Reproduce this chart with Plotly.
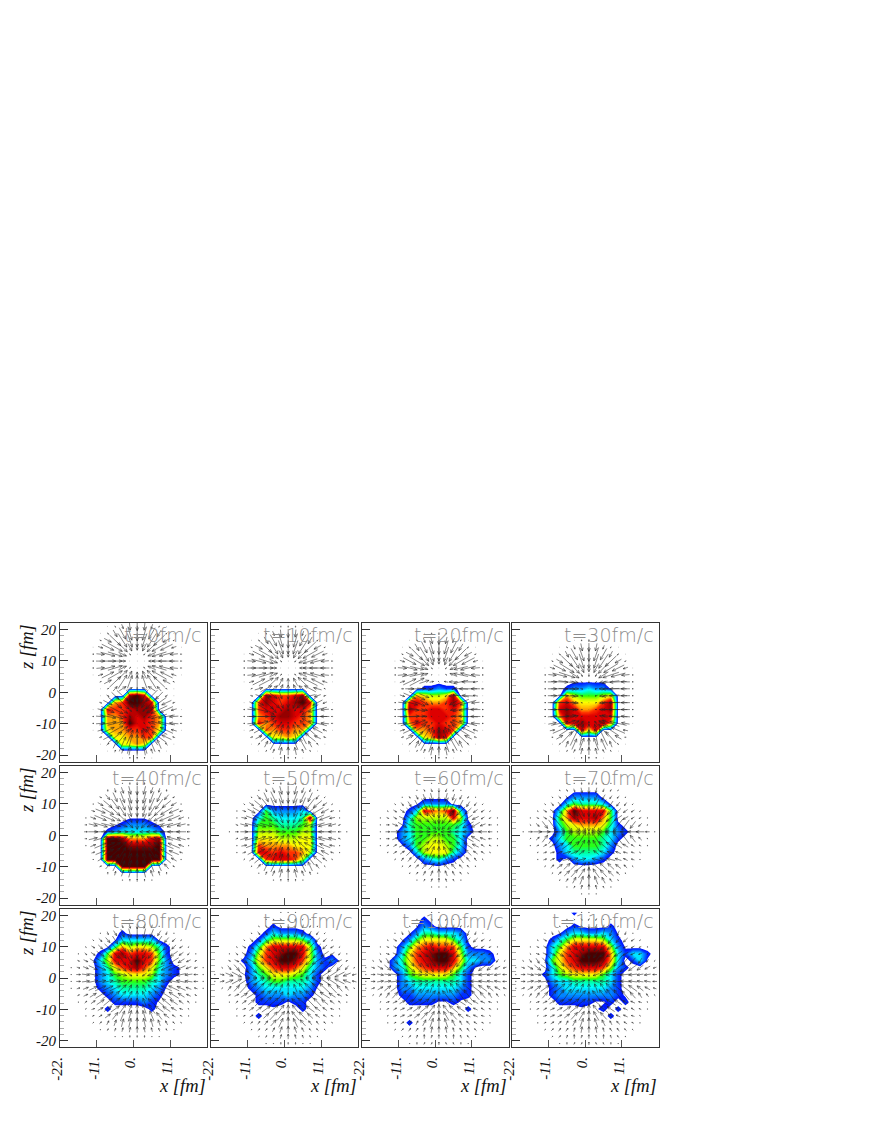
import numpy as np
import plotly.graph_objects as go

TIMES = [0, 10, 20, 30, 40, 50, 60, 70, 80, 90, 100, 110]
X_TICK_VALUES = [-22, -11, 0, 11]
X_TICK_LABELS = ["-22.", "-11.", "0.", "11."]
Z_TICK_VALUES = [20, 10, 0, -10, -20]
Z_TICK_LABELS = ["20", "10", "0", "-10", "-20"]
BIN_CENTRES = [-20.9, -18.7, -16.5, -14.3, -12.1, -9.9, -7.7, -5.5, -3.3, -1.1,
               1.1, 3.3, 5.5, 7.7, 9.9, 12.1, 14.3, 16.5, 18.7, 20.9]

# density, one string per row from z=+20.9 down to z=-20.9,
# one character per x bin: . = empty, ',' = trace, then 1..9, a, b, c
D0 = ["","","","","","","","","","",".........bca",".......89ccba","......a99abbb","......889bab98","......888caa98","......78899a97",".......778899","........7787","",""]
D10 = ["","","","","","","","","","",".......ba99ab","......9ba9abca","......9aaabaa8","......89abba98","......a89aa998",".......989988","........7787","","",""]
D20 = ["","","","","","","","","","........11211",".......87667b","......aa9889b9","......b99aa9a8","......999aaa98","......8a99a998",".......889ba9","........78ba","","",""]
D30 = ["","","","","","","","","........,,,,,",".......122322,",".......8655567","......9a87779b","......aba889ab","......8baaaaaa",".......aabaab8",".........a7a","","","",""]
D40 = ["","","","","","","",".........,,,",".......,12221,","......12333332","......ccb888ab","......cccbbbbc","......cccccccc","......cccccccc","........cccc","","","","",""]
D50 = ["","","","","","",".......522223","......3543334b","......55544456","......66655566","......77766677","......98888777","......aa9a9986",".......9aaa96","","","","","",""]
D60 = ["","","","","",".......,2222","......13a989c3","......366666a6,",".....,455555541",".....2355555432",".....235566553",".....,25677653",".......3677742","........23421","..........,","","","","",""]
D70 = ["","","","",".......,2222",".......354443,","......38caaaa5","......58baab85","......467888741","......2566665321",".....1355555431","......23555542","......13444431","......1.23321","","","","","",""]
D80 = ["","","","........1",".......,33333,","......,48677641",".....15ab9aa951","....,36aaaca952",".....2479ab97421,",".....23567776321,",".....2345555431",".....123444432,","......12333321",".......111121,","......1.....1","","","","",""]
D90 = ["","","........1",".......132221","......14666653",".....148aaaaa61",".....269abcca62.,","....1379accb96212,",".....2579aa97421","....,2457776531",".....2345544431",".....123333332,","......12223221","......1111,11","........,...1","......1","","","",""]
D100 = ["",  "........1",".......,21","......,2443332",".....,25777753,",".....2589a99951",".....379abcca62221","....2479abcca73322","....23689aaa852,",".....2567777531",".....2344444431",".....2233333321",".....1122222211","......1111,,1,","..............1","","......1","","",""]
D110 = ["........1","","........1,...1","......,2332232,",".....1357777631",".....358aaaaa62,",".....379abccc831331","....,579acccb83.13,",".....3689aaa9621","....13567777531",".....2334444431",".....1233333321",".....1222222221,","......11111,,1.1",".........,.,1.1",".............1","......,","","",""]

# second field read from the arrows: arrows follow its gradient (base-36 characters)
A0 = ["........12221.......","......126aba621.....","......29gkmkg92.....",".....16gostsog61....",".....2aksuuuska2....",".....2bmtuuutmb2....",".....2aksuuuska2....",".....16gostsog61....","......29gkmkg92.....","......126bcb621.....","......13ahjha31.....","......3bkrsrlc3.....",".....17hruvurh71....",".....2bmuwwwumb2....",".....2bnuwwwunb2....",".....17hruvurh71....","......3bkrsrlc3.....","......136bcb631.....","........12321.......",""]
A10 = ["","........12221.......","......126aba621.....","......29gkmkg92.....",".....16gostsog61....",".....2aksuuuska2....",".....2bmtuuutmb2....",".....2aksuuuska2....",".....16gostsog61....","......2agklkga2.....","......38ghjhg83.....",".....15dnstsnd51....",".....2apuwwwupa2....",".....2bqvwwwvqb2....",".....2apuwwwupa2....",".....15dnstsnd51....","......38ghjhg83.....","......125aba521.....","........12321.......",""]
A20 = ["","","........12321.......","......1269b9621.....","......29gkmkg92.....",".....16hpstsph61....",".....2blsuuuslb2....",".....2bltuuutlb2....",".....16hottsoh61....","......3bpttttpb3....",".....16gqstsqg61....",".....2amuwwwuma2....",".....2cpwxxxwpc2....",".....2cqwxxxwqc2....",".....2bowwxwwob2....",".....16hsuvush61....","......39inpni93.....","......125bcb521.....","........12321.......",""]
A30 = ["","","","........12321.......","......125aba521.....","......28gkmkg82.....",".....16gotutog61....",".....2akuwwwuka2....",".....2bnwxyxwnb2....",".....2bnwyzywnb2....",".....2bowyzywob2....",".....2bpxzzzxpb2....",".....2bpxzzzxpb2....",".....2bpxzzzxpb2....",".....1amvyzyvma1....","......6hqtutqh6.....","......28fijif82.....","......1248a8421.....","........12321.......",""]
A40 = ["","","","........12321.......","......246898642.....",".....159cefec951....",".....39eiklkie93....","....15cimpqpmic51...","....28fkptvtpkf82...","....39flqvzvqlf93...","....28fkptvtpkf82...","....15cimpqpmic51...",".....39eiklkie93....",".....159cefec951....","......246898642.....","........12321.......","","","",""]
A50 = ["","","","........12321.......","......135898531.....",".....149cefec941....","....138eijljie831...","....15bhmpqpmhb51...","....27ekptvtpke72...","...138fkqvzvqkf831..","....27ekptvtpke72...","....15bhmpqpmhb51...","....138eijljie831...",".....149cefec941....","......135898531.....","........12321.......","","","",""]
A60 = ["","","",".........111........",".......1234321......",".....12469a96421....","....1359dgigd9531...","...1248cglolgc8421..","...136bglrtrlgb631..","...149ejpuzupje941..","...136bglrtrlgb631..","...1248cglolgc8421..","....1359dgigd9531...",".....12479c97421....","......124696421.....",".......1234321......",".........111........","","",""]
A70 = ["","","",".......1122211......","......123565321.....",".....12469b96421....","....1358cfhfc8531...","...1247bgkmkgb7421..","...136afkqsqkfa631..","..149ejosxzxsoje941.","...136afkqsqkfa631..","...1247bgkmkgb7421..","....1358cfhfc8531...","....1359dglgd9531...",".....1369dhd9631....","......1369c9631.....",".......1245421......",".........111........","",""]
A80 = ["","",".........111........",".......1345431......",".....1358aca8531....","....1359cfhfc9531...","...1259dhklkhd9521..","...248dilopolid842..","..136bglqstsqlgb631.","..148dinsvwvsnid841.","..148dinsvwvsnid841.","..136bglqstsqlgb631.","...248dilopolid842..","...1259diklkid9521..","....136aeghgea631...","....12479bcb97421...",".....12345654321....",".......1122211......","",""]
A90 = ["",".........111........",".......1122211......","......123454321.....",".....1358aca8531....","....1359cfhfc9531...","...1259dhklkhd9521..","...248dilopolid842..","..136bglqstsqlgb631.",".148dinsvwzwvsnid841",".148dinsvwzwvsnid841","..136bglqstsqlgb631.","...248dilopolid842..","...1258chlolhc8521..","....1358dhjhd8531...","....12469dgd96421...",".....12358985321....","......123454321.....",".......1122211......",""]
A100 = ["",".........11.........",".......1122211......","......123454321.....","....1357abcba7531...","...12469dfhfd96421..","...1358cgjljgc8531..","..1247bfjnqnjfb7421.",".1369ejosuvusoje9631",".147afkptwzwtpkfa741",".147afkptwzwtpkfa741",".1369ejosuvusoje9631","..1247bfjnqnjfb7421.","...1358chlolhc8531..","...12469dhjhd96421..","....1357adfda7531...","....1245689865421...",".....12344544321....","......122232221.....",".........111........"]
A110 = ["",".........11.........",".......1122211......","......123454321.....","....1357abcba7531...","...12469dfhfd96421..","...1358cgjljgc8531..","..1247bfjnqnjfb7421.",".1369ejosuvusoje9631",".147afkptwzwtpkfa741",".147afkptwzwtpkfa741",".1369ejosuvusoje9631","..1247bfjnqnjfb7421.","...1358chlolhc8531..","...12469dhjhd96421..","....1357adfda7531...","....1245689865421...",".....12344544321....","......122232221.....",".........111........"]

DENSITY = [D0, D10, D20, D30, D40, D50, D60, D70, D80, D90, D100, D110]
ARROWS = [A0, A10, A20, A30, A40, A50, A60, A70, A80, A90, A100, A110]
ARROW_GAIN = [.24, .24, .24, .24, .32, .32, .32, .32, .32, .32, .32, .32]

COL_EDGES = [(60, 207), (211, 358), (362, 508.5), (512, 658.5)]
ROW_EDGES = [(623, 761.5), (766, 904.5), (909, 1047)]
W, H = 872, 1128
TRACE = 0.4
COLOURS = [(TRACE, "#0000ff"), (2, "#00a0ff"), (3, "#00ffff"), (4, "#00ff90"), (5, "#30ff00"),
           (6, "#c0ff00"), (7, "#ffff00"), (8, "#ffa000"), (9, "#ff3000"), (10, "#e00000"),
           (11, "#9c0000"), (12, "#4a0000")]
START = 0.3
colorscale = [[0, "#ffffff"], [START / 12 - 0.001, "#ffffff"], [START / 12, "#0010ff"]]
colorscale += [[v / 12, c] for v, c in COLOURS[1:]]


def density_grid(rows):
    vals = {".": 0.0, ",": TRACE}
    out = []
    for row in rows:
        row = row.ljust(20, ".")[:20]
        out.append([vals[c] if c in vals else float(int(c, 36)) for c in row])
    return np.array(out)


def arrow_grid(rows):
    out = []
    for row in rows:
        row = row.ljust(20, ".")[:20]
        out.append([0.0 if c == "." else float(int(c, 36)) for c in row])
    return np.array(out)


def quiver(field, gain):
    xs, ys = [], []
    z_centres = BIN_CENTRES[::-1]
    for r in range(20):
        for i in range(20):
            left = field[r, i - 1] if i > 0 else 0
            right = field[r, i + 1] if i < 19 else 0
            up = field[r - 1, i] if r > 0 else 0
            down = field[r + 1, i] if r < 19 else 0
            u, v = (right - left) * gain, (up - down) * gain
            n = float(np.hypot(u, v))
            if n == 0 and field[r, i] == 0:
                continue
            cx, cz = BIN_CENTRES[i], z_centres[r]
            if n < 0.3:
                xs += [cx - 0.06, cx + 0.06, None]
                ys += [cz, cz, None]
                continue
            ux, uz = u / n, v / n
            tx, tz = cx + u / 2, cz + v / 2
            bx, bz = cx - u / 2, cz - v / 2
            xs += [bx, tx, None]
            ys += [bz, tz, None]
            head = min(1.1, 0.45 * n)
            for sign in (1, -1):
                ca, sa = np.cos(np.radians(24)), sign * np.sin(np.radians(24))
                hx = -(ux * ca - uz * sa) * head
                hz = -(ux * sa + uz * ca) * head
                xs += [tx, tx + hx, None]
                ys += [tz, tz + hz, None]
    return xs, ys


fig = go.Figure()
layout = {}
annotations = []
LABEL_FONT = dict(family="Liberation Serif", size=15, color="#111111", style="italic")
TITLE_FONT = dict(family="Liberation Serif", size=18.5, color="#111111", style="italic")

for n in range(12):
    row, col = n // 4, n % 4
    ax = "" if n == 0 else str(n + 1)
    L, R = COL_EDGES[col]
    T, B = ROW_EDGES[row]
    fig.add_trace(go.Contour(
        x=BIN_CENTRES, y=BIN_CENTRES, z=density_grid(DENSITY[n])[::-1].tolist(),
        xaxis="x" + ax, yaxis="y" + ax, zmin=0, zmax=12, colorscale=colorscale,
        autocontour=False, contours=dict(start=START, end=12.3, size=0.25, coloring="fill", showlines=False),
        line=dict(width=0, smoothing=0), showscale=False, hoverinfo="skip"))
    xs, ys = quiver(arrow_grid(ARROWS[n]), ARROW_GAIN[n])
    fig.add_trace(go.Scatter(x=xs, y=ys, xaxis="x" + ax, yaxis="y" + ax, mode="lines",
                             line=dict(color="#222222", width=0.55), showlegend=False, hoverinfo="skip"))
    layout["xaxis" + ax] = dict(
        domain=[L / W, R / W], range=[-22, 22], anchor="y" + ax, showgrid=False, zeroline=False,
        automargin=False, showline=True, mirror=True, linecolor="#333333", linewidth=1,
        ticks="inside", ticklen=7, tickwidth=1, tickcolor="#555555",
        tickvals=X_TICK_VALUES, ticktext=X_TICK_LABELS, tickangle=-90,
        showticklabels=row == 2, tickfont=LABEL_FONT, ticklabelshift=-3, ticklabelstandoff=3)
    layout["yaxis" + ax] = dict(
        domain=[1 - B / H, 1 - T / H], range=[-22, 22], anchor="x" + ax, showgrid=False, zeroline=False,
        automargin=False, showline=True, mirror=True, linecolor="#333333", linewidth=1,
        ticks="inside", ticklen=8, tickwidth=1, tickcolor="#333333",
        tickvals=Z_TICK_VALUES, ticktext=Z_TICK_LABELS,
        minor=dict(ticks="inside", dtick=2, ticklen=4, tickcolor="#aaaaaa", tickwidth=1),
        showticklabels=col == 0, tickfont=LABEL_FONT)
    annotations.append(dict(
        text=f"t={TIMES[n]}fm/c", xref="paper", yref="paper", x=(R - 3) / W, y=1 - (T - 1) / H,
        xanchor="right", yanchor="top", showarrow=False,
        font=dict(family="DejaVu Sans Light, DejaVu Sans", size=19, color="#8c8c8c")))

for T, _ in ROW_EDGES:
    annotations.append(dict(text="z [fm]", xref="paper", yref="paper", x=27 / W, y=1 - (T - 1) / H,
                            xanchor="center", yanchor="top", textangle=-90, showarrow=False, font=TITLE_FONT))
for _, R in COL_EDGES:
    annotations.append(dict(text="x [fm]", xref="paper", yref="paper", x=(R + 0.5) / W, y=1 - 1086 / H,
                            xanchor="right", yanchor="middle", showarrow=False, font=TITLE_FONT))

fig.update_layout(width=W, height=H, margin=dict(l=0, r=0, t=0, b=0), autosize=False,
                  paper_bgcolor="white", plot_bgcolor="white", showlegend=False,
                  annotations=annotations, **layout)
fig.write_html("out.html", post_script="document.body.style.margin='0';document.body.style.overflow='hidden';",
               config={"displayModeBar": False})
